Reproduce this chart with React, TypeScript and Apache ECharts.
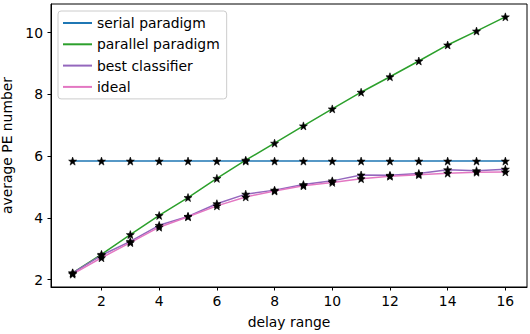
import React, { useEffect, useRef } from "react";
import * as echarts from "echarts";

const delayRange = [1, 2, 3, 4, 5, 6, 7, 8, 9, 10, 11, 12, 13, 14, 15, 16];
const serialParadigm = [5.84, 5.84, 5.84, 5.84, 5.84, 5.84, 5.84, 5.84, 5.84, 5.84, 5.84, 5.84, 5.84, 5.84, 5.84, 5.84];
const parallelParadigm = [2.22, 2.82, 3.46, 4.08, 4.66, 5.28, 5.87, 6.42, 6.98, 7.53, 8.07, 8.57, 9.08, 9.6, 10.05, 10.51];
const bestClassifier = [2.22, 2.79, 3.24, 3.76, 4.05, 4.46, 4.77, 4.9, 5.08, 5.2, 5.39, 5.38, 5.44, 5.56, 5.53, 5.58];
const ideal = [2.18, 2.71, 3.2, 3.7, 4.04, 4.39, 4.68, 4.87, 5.04, 5.15, 5.27, 5.35, 5.4, 5.45, 5.48, 5.49];
const xTicks = [2, 4, 6, 8, 10, 12, 14, 16];
const yTicks = [2, 4, 6, 8, 10];

const seriesNames = ["serial paradigm", "parallel paradigm", "best classifier", "ideal"];
const seriesColors = ["#1f77b4", "#2ca02c", "#9467bd", "#e377c2"];
const seriesValues = [serialParadigm, parallelParadigm, bestClassifier, ideal];

const STAR =
  "path://M0,-10 L2.35,-3.24 L9.51,-3.09 L3.80,1.24 L5.88,8.09 L0,4 L-5.88,8.09 L-3.80,1.24 L-9.51,-3.09 L-2.35,-3.24 Z";

const FONT = "DejaVu Sans";
const FS = 13.9;

function mk(name: string, values: number[], color: string) {
  return {
    name,
    type: "line",
    data: delayRange.map((x, i) => [x, values[i]]),
    lineStyle: { color, width: 1.5 },
    itemStyle: { color: "#000", borderColor: "#000", borderWidth: 0.6 },
    symbol: STAR,
    symbolSize: 8,
    showSymbol: true,
  };
}

export default function App() {
  const ref = useRef<HTMLDivElement>(null);
  useEffect(() => {
    const chart = echarts.init(ref.current!, null, { renderer: "svg" });
    const allVals = seriesValues.flat();
    const yMinD = Math.min(...allVals);
    const yMaxD = Math.max(...allVals);
    const yPad = (yMaxD - yMinD) * 0.05;
    const xPad = (delayRange[delayRange.length - 1] - delayRange[0]) * 0.05;
    chart.setOption({
      animation: false,
      textStyle: { fontFamily: FONT },
      grid: {
        left: 51,
        right: 3,
        top: 4,
        bottom: 47,
        containLabel: false,
        outerBoundsMode: "none",
        show: true,
        borderColor: "#000",
        borderWidth: 1,
        backgroundColor: "transparent",
      },
      legend: {
        orient: "vertical",
        left: 58,
        top: 11,
        padding: [4, 7, 4, 5],
        backgroundColor: "rgba(255,255,255,0.8)",
        borderColor: "#cccccc",
        borderWidth: 1,
        borderRadius: 3,
        icon: "rect",
        itemWidth: 29,
        itemHeight: 2,
        itemGap: 5.3,
        itemTextGap: 15,
        textStyle: { fontSize: FS, fontFamily: FONT, color: "#000", lineHeight: 16 },
        data: seriesNames.map((n, i) => ({
          name: n,
          itemStyle: { color: seriesColors[i], borderWidth: 0 },
        })),
      },
      xAxis: {
        type: "value",
        min: delayRange[0] - xPad,
        max: delayRange[delayRange.length - 1] + xPad,
        name: "delay range",
        nameLocation: "middle",
        nameGap: 28,
        nameTextStyle: { fontSize: FS, fontFamily: FONT, color: "#000" },
        axisLine: { show: true, lineStyle: { color: "#000", width: 1 } },
        axisTick: { show: true, customValues: xTicks, length: 3.5, lineStyle: { color: "#000" } },
        axisLabel: { customValues: xTicks, fontSize: FS, fontFamily: FONT, color: "#000", margin: 7 },
        splitLine: { show: false },
      },
      yAxis: {
        type: "value",
        min: yMinD - yPad,
        max: yMaxD + yPad,
        name: "average PE number",
        nameLocation: "middle",
        nameGap: 33,
        nameTextStyle: { fontSize: FS, fontFamily: FONT, color: "#000" },
        axisLine: { show: true, lineStyle: { color: "#000", width: 1 } },
        axisTick: { show: true, customValues: yTicks, length: 3.5, lineStyle: { color: "#000" } },
        axisLabel: { customValues: yTicks, fontSize: FS, fontFamily: FONT, color: "#000", margin: 8 },
        splitLine: { show: false },
      },
      series: seriesNames.map((n, i) => mk(n, seriesValues[i], seriesColors[i])),
    });
    return () => chart.dispose();
  }, []);
  return <div ref={ref} style={{ width: 530, height: 334, position: "absolute", left: 0, top: 0 }} />;
}
